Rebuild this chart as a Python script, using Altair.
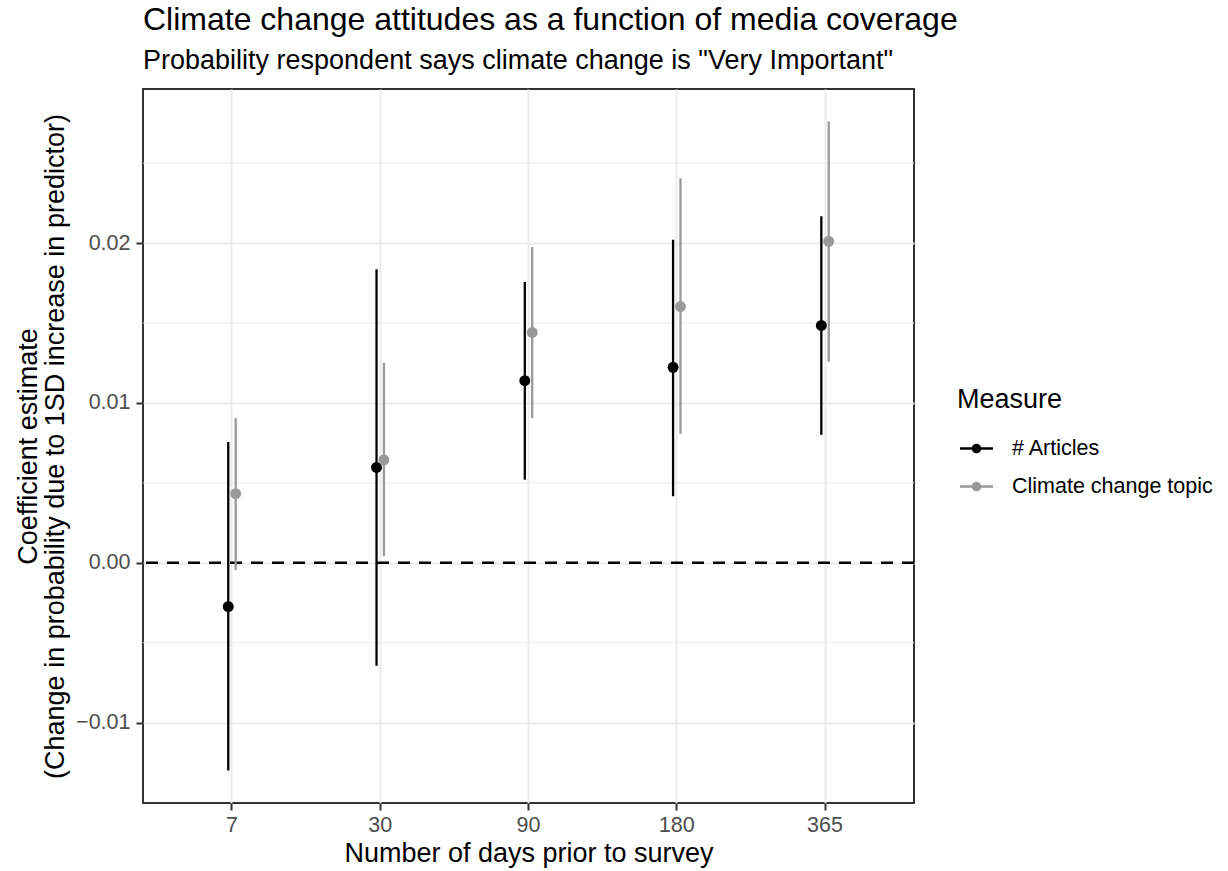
import altair as alt
import pandas as pd

# ---- data ----
days = ["7", "30", "90", "180", "365"]
measures = ["# Articles", "Climate change topic"]

articles_est = [-0.00274, 0.00596, 0.01139, 0.01223, 0.01485]
articles_lo = [-0.01300, -0.00645, 0.00520, 0.00416, 0.00800]
articles_hi = [0.00755, 0.01836, 0.01757, 0.02021, 0.02168]

topic_est = [0.00432, 0.00644, 0.01441, 0.01603, 0.02011]
topic_lo = [-0.00046, 0.00041, 0.00905, 0.00807, 0.01258]
topic_hi = [0.00905, 0.01251, 0.01975, 0.02405, 0.02761]

major_breaks = [-0.01, 0.0, 0.01, 0.02]
minor_breaks = [-0.005, 0.005, 0.015, 0.025]
reference_line = [0.0]

colors = ["#000000", "#999999"]

rows = []
for i, d in enumerate(days):
    rows.append(dict(days=d, measure=measures[0], est=articles_est[i],
                     lo=articles_lo[i], hi=articles_hi[i]))
    rows.append(dict(days=d, measure=measures[1], est=topic_est[i],
                     lo=topic_lo[i], hi=topic_hi[i]))
df = pd.DataFrame(rows)

lo_all = min(articles_lo + topic_lo)
hi_all = max(articles_hi + topic_hi)
pad = 0.05 * (hi_all - lo_all)
ydomain = [lo_all - pad, hi_all + pad]

FONT = "Liberation Sans"
W, H = 771, 714
band = W / (len(days) + 0.2)      # band step with 0.1 outer padding
dodge = 7.4                        # px between the two dodged series
centre = band / 2

yscale = alt.Scale(domain=ydomain, nice=False, zero=False)
yaxis = alt.Axis(
    values=major_breaks, format=".2f",
    grid=True, gridColor="#EBEBEB", gridWidth=2,
    domain=False, tickSize=7, tickColor="#333333", tickWidth=2,
    labelColor="#4D4D4D", labelFontSize=21.5, labelFont=FONT, labelPadding=6,
    title=["Coefficient estimate",
           "(Change in probability due to 1SD increase in predictor)"],
    titleFontSize=27, titleFont=FONT, titleFontWeight="normal", titleColor="black",
    titleAngle=270, titleX=-107, titleY=H / 2, titleAlign="center",
    titleBaseline="alphabetic", titleLineHeight=27,
)

xenc = alt.X(
    "days:N", sort=days,
    scale=alt.Scale(paddingInner=0, paddingOuter=0.1),
    axis=alt.Axis(
        title="Number of days prior to survey", labelAngle=0,
        grid=True, gridColor="#EBEBEB", gridWidth=2, bandPosition=0.5,
        domain=False, tickSize=7, tickColor="#333333", tickWidth=2,
        labelColor="#4D4D4D", labelFontSize=21.5, labelFont=FONT, labelPadding=4,
        titleFontSize=27, titleFont=FONT, titleFontWeight="normal", titleColor="black",
        titleY=58, titleBaseline="alphabetic",
    ),
)
xoff = alt.XOffset("measure:N", sort=measures,
                   scale=alt.Scale(range=[centre - dodge, centre + dodge],
                                   paddingInner=0, paddingOuter=0))

color_scale = alt.Scale(domain=measures, range=colors)

legend_symbol = ("M-1,-0.075H-0.25V0.075H-1Z M0.25,-0.075H1V0.075H0.25Z "
                 "M0.29,0A0.29,0.29 0 1,1 -0.29,0A0.29,0.29 0 1,1 0.29,0Z")
legend = alt.Legend(
    title="Measure", orient="none", legendX=814, legendY=298,
    titleFontSize=27, titleFont=FONT, titleFontWeight="normal", titleColor="black",
    titlePadding=18,
    labelFontSize=21.5, labelFont=FONT, labelColor="black", labelOffset=19,
    labelLimit=400,
    symbolType=legend_symbol, symbolSize=1089, symbolStrokeWidth=0,
    symbolOffset=3, rowPadding=11, symbolOpacity=1,
)
color_enc = alt.Color("measure:N", scale=color_scale, legend=legend)

minor = alt.Chart(pd.DataFrame({"minor": minor_breaks})).mark_rule(
    color="#EBEBEB", strokeWidth=1
).encode(y=alt.Y("minor:Q", scale=yscale, axis=yaxis))

zero = alt.Chart(pd.DataFrame({"ref": reference_line})).mark_rule(
    color="black", strokeDash=[12, 9], strokeWidth=2.4
).encode(y=alt.Y("ref:Q", scale=yscale, axis=yaxis))

base = alt.Chart(df)
bars = base.mark_rule(strokeWidth=2.3).encode(
    x=xenc, xOffset=xoff,
    y=alt.Y("lo:Q", scale=yscale, axis=yaxis), y2="hi:Q",
    color=color_enc,
)
points = base.mark_circle(size=120, opacity=1).encode(
    x=xenc, xOffset=xoff,
    y=alt.Y("est:Q", scale=yscale, axis=yaxis),
    color=color_enc,
)

chart = alt.layer(minor, zero, bars, points).properties(
    width=W, height=H,
    title=alt.TitleParams(
        text="Climate change attitudes as a function of media coverage",
        subtitle='Probability respondent says climate change is "Very Important"',
        anchor="start", frame="group", font=FONT, subtitleFont=FONT,
        fontSize=32, subtitleFontSize=27, fontWeight="normal",
        color="black", subtitleColor="black", offset=14, subtitlePadding=11,
    ),
    autosize=alt.AutoSizeParams(type="none"),
    padding={"left": 143, "top": 89, "right": 314, "bottom": 68},
).configure(
    background="white", font=FONT
).configure_view(stroke="#333333", strokeWidth=2)

chart.save("out.html", embed_options={"renderer": "svg", "actions": False})
